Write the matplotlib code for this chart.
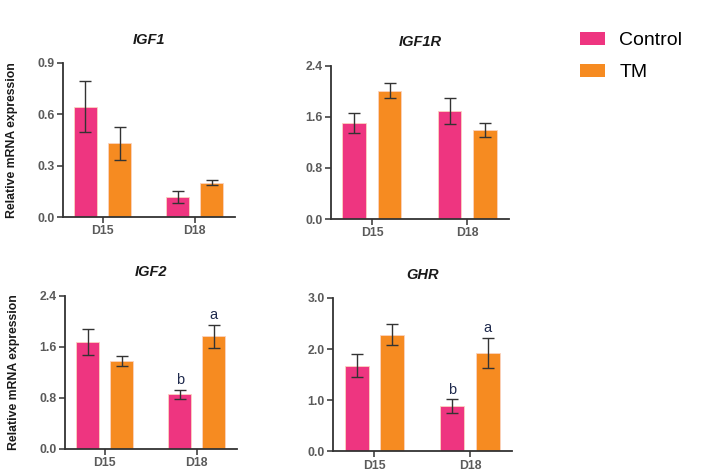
import matplotlib
matplotlib.use('Agg')
import matplotlib.pyplot as plt
from matplotlib.patches import Patch
import numpy as np

plt.rcParams['font.family'] = ['Liberation Sans', 'DejaVu Sans']

days = ['D15', 'D18']
groups = ['Control', 'TM']
colors = {'Control': '#EE3580', 'TM': '#F68B21'}

# gene -> mean and SE per group, order D15, D18
igf1_ctrl = [0.645, 0.115]
igf1_ctrl_err = [0.15, 0.035]
igf1_tm = [0.43, 0.20]
igf1_tm_err = [0.095, 0.015]

igf1r_ctrl = [1.50, 1.69]
igf1r_ctrl_err = [0.16, 0.20]
igf1r_tm = [2.01, 1.40]
igf1r_tm_err = [0.12, 0.11]

igf2_ctrl = [1.675, 0.856]
igf2_ctrl_err = [0.205, 0.068]
igf2_tm = [1.377, 1.763]
igf2_tm_err = [0.077, 0.177]

ghr_ctrl = [1.676, 0.88]
ghr_ctrl_err = [0.228, 0.133]
ghr_tm = [2.283, 1.917]
ghr_tm_err = [0.205, 0.297]

# significance letters (only D18 for IGF2 and GHR)
igf2_letters = {'Control': ['', 'b'], 'TM': ['', 'a']}
ghr_letters = {'Control': ['', 'b'], 'TM': ['', 'a']}

panels = [
    ('IGF1', igf1_ctrl, igf1_ctrl_err, igf1_tm, igf1_tm_err, [0, 0.3, 0.6, 0.9], None),
    ('IGF1R', igf1r_ctrl, igf1r_ctrl_err, igf1r_tm, igf1r_tm_err, [0, 0.8, 1.6, 2.4], None),
    ('IGF2', igf2_ctrl, igf2_ctrl_err, igf2_tm, igf2_tm_err, [0, 0.8, 1.6, 2.4], igf2_letters),
    ('GHR', ghr_ctrl, ghr_ctrl_err, ghr_tm, ghr_tm_err, [0, 1.0, 2.0, 3.0], ghr_letters),
]

# axes boxes in figure fractions
boxes = [
    [0.088, 0.538, 0.241, 0.328],
    [0.463, 0.534, 0.249, 0.326],
    [0.091, 0.045, 0.241, 0.326],
    [0.466, 0.040, 0.250, 0.326],
]

fig = plt.figure(figsize=(7.15, 4.70), dpi=100)

x = np.arange(len(days))
w = 0.25
off = 0.185
spine_c = '#333333'
tick_c = '#5a5a5a'

for i, (gene, c_m, c_e, t_m, t_e, yt, letters) in enumerate(panels):
    ax = fig.add_axes(boxes[i])
    for name, m, e, dx in (('Control', c_m, c_e, -off), ('TM', t_m, t_e, off)):
        ax.bar(x + dx, m, width=w, color=colors[name], edgecolor='#fbd3c0',
               linewidth=0.6, zorder=2)
        ax.errorbar(x + dx, m, yerr=e, fmt='none', ecolor='#333333',
                    elinewidth=1.0, capsize=4.5, capthick=1.0, zorder=3)
        if letters:
            for j, lab in enumerate(letters[name]):
                if lab:
                    ax.annotate(lab, (x[j] + dx, m[j] + e[j]), xytext=(0, 2),
                                textcoords='offset points', ha='center',
                                va='bottom', fontsize=10.5, color='#1f2a4d')
    ax.set_xlim(-0.43, 1.44)
    ax.set_ylim(0, yt[-1])
    ax.set_yticks(yt)
    ax.set_yticklabels(['%.1f' % v for v in yt])
    ax.set_xticks(x)
    ax.set_xticklabels(days)
    for s in ('top', 'right'):
        ax.spines[s].set_visible(False)
    for s in ('left', 'bottom'):
        ax.spines[s].set_color(spine_c)
        ax.spines[s].set_linewidth(1.3)
    ax.tick_params(axis='both', direction='out', length=4, width=1.1,
                   color=spine_c, labelsize=8.8, labelcolor=tick_c, pad=2)
    for lbl in ax.get_xticklabels() + ax.get_yticklabels():
        lbl.set_fontweight('bold')
    ax.set_title(gene, fontsize=10.5, fontweight='bold', style='italic',
                 color='#1a1a1a', pad=14)
    if i in (0, 2):
        ax.set_ylabel('Relative mRNA expression', fontsize=8.8,
                      fontweight='bold', color='#1a1a1a', labelpad=14)

handles = [Patch(facecolor=colors[g], edgecolor='none') for g in groups]
fig.legend(handles, groups, loc='upper left', bbox_to_anchor=(0.797, 0.952),
           frameon=False, fontsize=14, handlelength=1.33, handleheight=0.62,
           labelspacing=0.75, handletextpad=0.72, borderpad=0)

fig.savefig('out.png', dpi=100)
